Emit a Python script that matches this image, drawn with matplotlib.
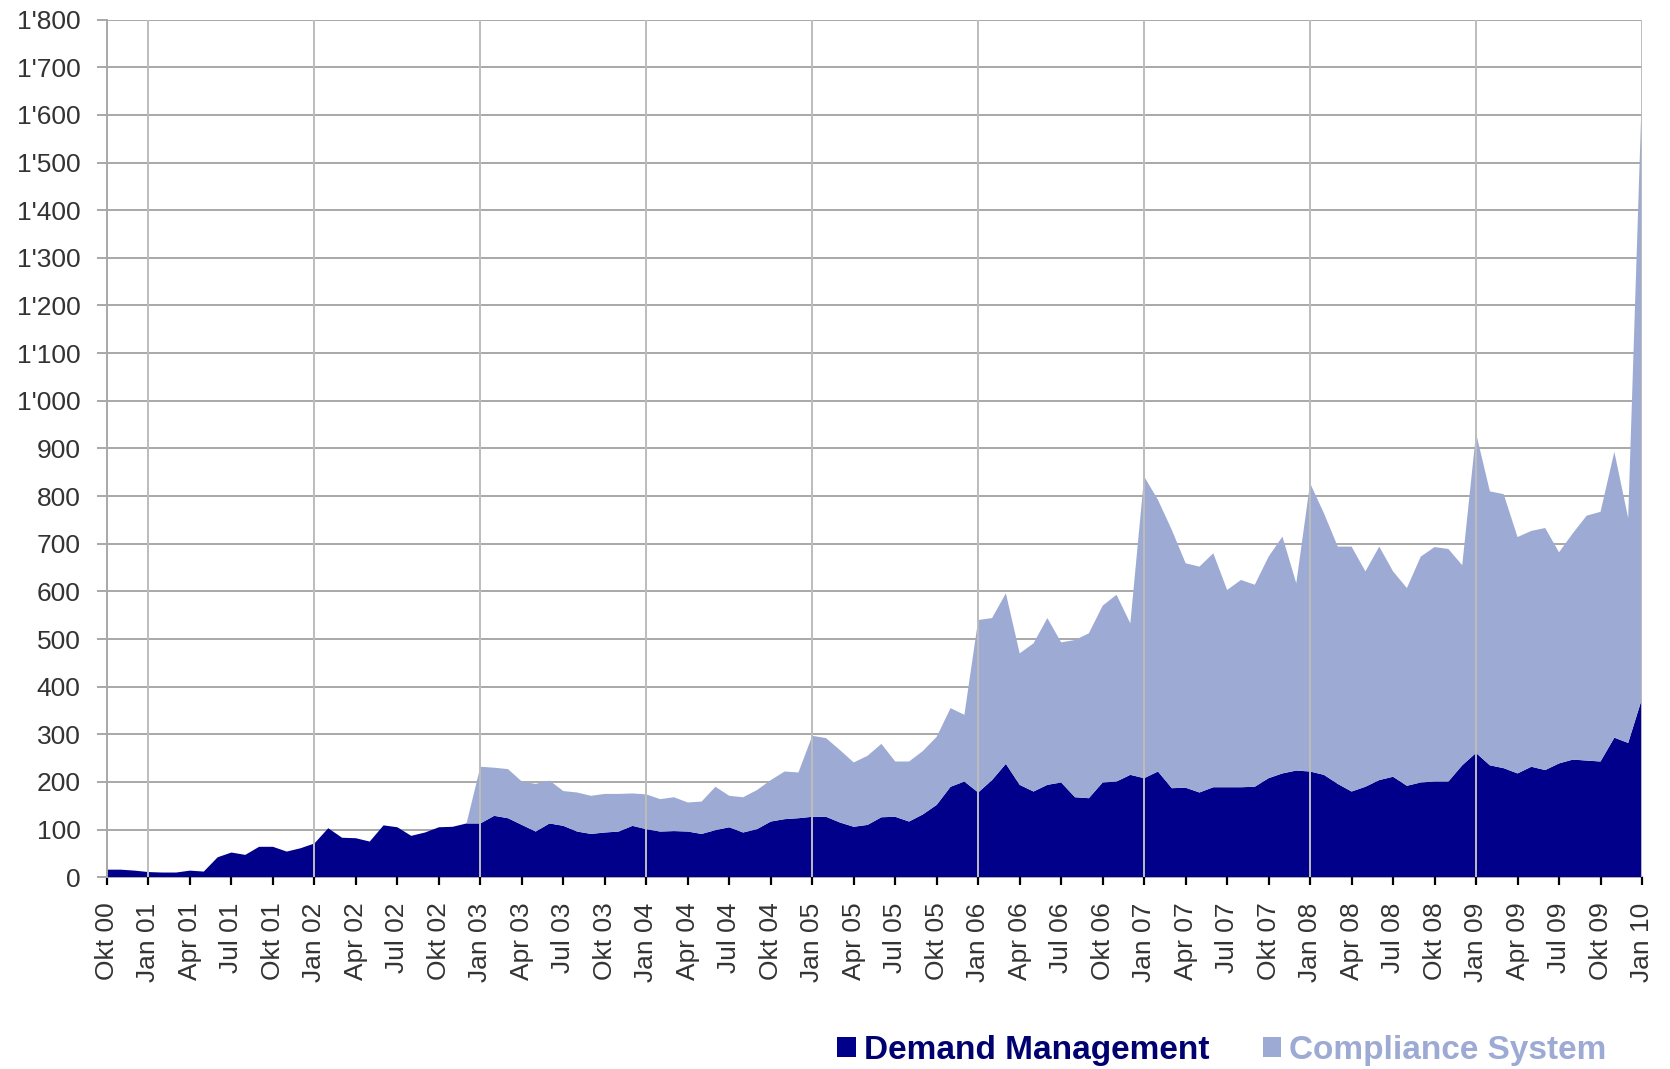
import matplotlib
matplotlib.use("Agg")
import matplotlib.pyplot as plt
from matplotlib.ticker import FuncFormatter, FixedLocator

plt.rcParams['font.family'] = ['Liberation Sans', 'DejaVu Sans']

# Monthly series, Okt 2000 .. Jan 2010 (112 months)
demand_management = [
    16, 16, 14, 11, 10, 10, 14, 12, 42, 52, 47, 64,          # Okt00 - Sep01
    64, 54, 61, 71, 103, 83, 82, 75, 109, 105, 87, 94,       # Okt01 - Sep02
    105, 106, 113, 113, 129, 124, 110, 96, 113, 108, 96, 91, # Okt02 - Sep03
    94, 96, 108, 101, 96, 97, 96, 91, 99, 105, 94, 101,      # Okt03 - Sep04
    117, 122, 124, 127, 127, 115, 106, 110, 126, 127, 117, 132,  # Okt04 - Sep05
    152, 190, 201, 178, 204, 238, 194, 180, 194, 199, 168, 166,  # Okt05 - Sep06
    199, 201, 215, 208, 222, 187, 188, 178, 189, 189, 189, 190,  # Okt06 - Sep07
    208, 218, 224, 222, 215, 196, 180, 190, 204, 211, 192, 199,  # Okt07 - Sep08
    201, 201, 235, 261, 235, 229, 218, 232, 225, 239, 247, 245,  # Okt08 - Sep09
    243, 293, 282, 375,                                          # Okt09 - Jan10
]

compliance_system = [
    0, 0, 0, 0, 0, 0, 0, 0, 0, 0, 0, 0,
    0, 0, 0, 0, 0, 0, 0, 0, 0, 0, 0, 0,
    0, 0, 0, 119, 101, 103, 91, 100, 90, 73, 82, 80,
    81, 79, 68, 73, 68, 71, 61, 68, 91, 66, 74, 82,
    87, 100, 96, 170, 165, 152, 135, 145, 154, 116, 126, 133,
    143, 165, 140, 362, 340, 358, 276, 311, 350, 294, 330, 346,
    371, 392, 318, 633, 570, 542, 471, 474, 491, 414, 435, 424,
    465, 497, 393, 605, 549, 498, 514, 452, 490, 431, 415, 474,
    492, 488, 420, 671, 575, 575, 496, 495, 508, 443, 475, 514,
    524, 600, 472, 1280,
]

# Tick labels every quarter, starting Okt 00
quarter_labels = [
    "Okt 00",
    "Jan 01", "Apr 01", "Jul 01", "Okt 01",
    "Jan 02", "Apr 02", "Jul 02", "Okt 02",
    "Jan 03", "Apr 03", "Jul 03", "Okt 03",
    "Jan 04", "Apr 04", "Jul 04", "Okt 04",
    "Jan 05", "Apr 05", "Jul 05", "Okt 05",
    "Jan 06", "Apr 06", "Jul 06", "Okt 06",
    "Jan 07", "Apr 07", "Jul 07", "Okt 07",
    "Jan 08", "Apr 08", "Jul 08", "Okt 08",
    "Jan 09", "Apr 09", "Jul 09", "Okt 09",
    "Jan 10",
]

series_names = ["Demand Management", "Compliance System"]
navy = "#00008A"
light = "#9DAAD3"
grid_col = "#A8A8A8"
text_col = "#333333"

W, H = 1670, 1069
fig = plt.figure(figsize=(W / 100, H / 100), dpi=100)
left, right, bottom, top = 107.0, 1642.0, 877.3, 19.6
ax = fig.add_axes([left / W, 1 - bottom / H, (right - left) / W, (bottom - top) / H])

x = list(range(len(demand_management)))
polys = ax.stackplot(x, demand_management, compliance_system,
                     colors=[navy, light], linewidth=0, zorder=2)

ax.set_xlim(0, len(x) - 1)
ax.set_ylim(0, 1800)

# Horizontal grid behind the areas
ax.yaxis.set_major_locator(FixedLocator(range(0, 1801, 100)))
ax.yaxis.set_major_formatter(FuncFormatter(lambda v, p: f"{int(v):,}".replace(",", "'")))
for v in range(100, 1801, 100):
    ax.axhline(v, color=grid_col, lw=1.4, zorder=1)

# Vertical year lines drawn over the areas
for i in range(3, len(x), 12):
    ax.axvline(i, color="#BDBDBD", lw=1.4, zorder=3)

ax.set_xticks(range(0, len(x), 3))
ax.set_xticklabels(quarter_labels, rotation=90, fontsize=19, color=text_col)

for s in ["top", "right"]:
    ax.spines[s].set_visible(False)
ax.spines["left"].set_color(grid_col)
ax.spines["left"].set_linewidth(1.4)
ax.spines["bottom"].set_color(grid_col)
ax.spines["bottom"].set_linewidth(1.4)
ax.spines["bottom"].set_zorder(1)

ax.tick_params(axis="y", length=7, width=1.4, color=grid_col, pad=12,
               labelsize=19, labelcolor=text_col)
ax.tick_params(axis="x", length=6, width=1.6, color="black", pad=12)

leg = fig.legend(polys, series_names, loc="center", ncol=2,
                 bbox_to_anchor=(1222 / W, 1 - 1050 / H), frameon=False,
                 handlelength=0.55, handleheight=0.55, handletextpad=0.25,
                 columnspacing=1.6,
                 prop={"family": "Liberation Sans", "weight": "bold", "size": 24})
for t, c in zip(leg.get_texts(), ["#000070", light]):
    t.set_color(c)

fig.savefig("out.png", dpi=100)
